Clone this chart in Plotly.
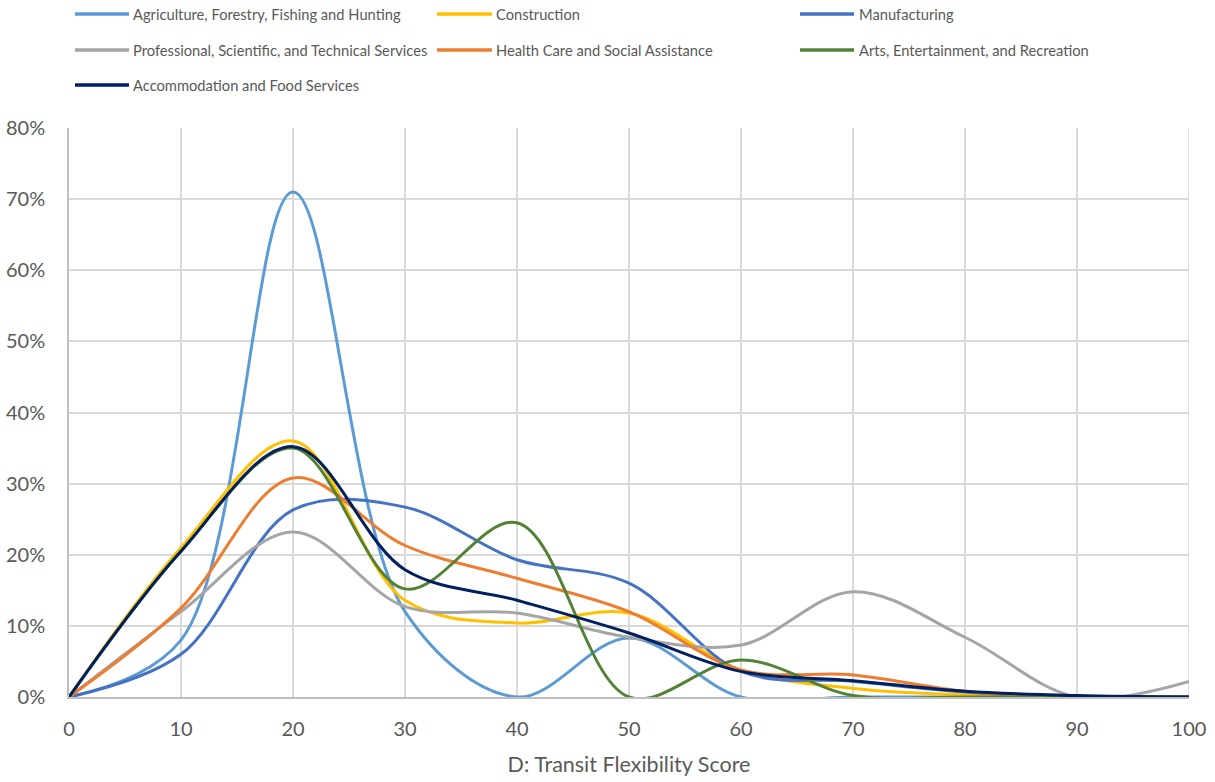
import plotly.graph_objects as go

# Transit flexibility score buckets (x axis)
scores = [0, 10, 20, 30, 40, 50, 60, 70, 80, 90, 100]

# Share of workers in each score bucket, in percent, by industry
agriculture = [0, 8.0, 71.0, 12.0, 0.0, 8.3, 0.0, 0.0, 0.0, 0.0, 0.0]
construction = [0, 21.0, 36.0, 13.6, 10.4, 11.8, 3.8, 1.2, 0.3, 0.0, 0.0]
manufacturing = [0, 6.0, 26.3, 26.7, 19.3, 16.0, 3.6, 2.2, 0.7, 0.0, 0.0]
professional = [0, 12.0, 23.2, 12.7, 11.8, 8.4, 7.3, 14.8, 8.4, 0.0, 2.2]
health_care = [0, 12.5, 30.8, 21.3, 16.7, 12.0, 3.8, 3.1, 0.8, 0.0, 0.0]
arts = [0, 20.5, 35.0, 15.2, 24.5, 0.0, 5.2, 0.2, 0.0, 0.0, 0.0]
accommodation = [0, 20.5, 35.2, 17.9, 13.6, 9.0, 3.6, 2.3, 0.8, 0.2, 0.0]

y_ticks = [0, 10, 20, 30, 40, 50, 60, 70, 80]

series = [
    ("Agriculture, Forestry, Fishing and Hunting", agriculture, "#5B9BD5"),
    ("Construction", construction, "#FFC000"),
    ("Manufacturing", manufacturing, "#4472C4"),
    ("Professional, Scientific, and Technical Services", professional, "#A5A5A5"),
    ("Health Care and Social Assistance", health_care, "#ED7D31"),
    ("Arts, Entertainment, and Recreation", arts, "#548235"),
    ("Accommodation and Food Services", accommodation, "#002060"),
]

FONT = "Lato"
TEXT = "#595959"

W, H = 1215, 782
L, R, T, B = 69, 26, 128, 85
plot_w = W - L - R
plot_h = H - T - B

fig = go.Figure()
for name, vals, color in series:
    fig.add_trace(go.Scatter(
        x=scores,
        y=[v / 100 for v in vals],
        name=name,
        mode="lines",
        line=dict(color=color, width=3, shape="spline", smoothing=1),
        showlegend=False,
        hoverinfo="x+y+name",
    ))

# Legend drawn as three columns of line samples with labels above the plot
col_px = [(75, 129, 131), (437, 492, 494), (800, 854, 857)]
row_py = [14, 50, 85]


def px_to_paper_x(px):
    return (px - L) / plot_w


def py_to_paper_y(py):
    return (H - B - py) / plot_h


shapes = []
annotations = []
for i, (name, _, color) in enumerate(series):
    row, col = divmod(i, 3)
    x0, x1, xt = col_px[col]
    yy = py_to_paper_y(row_py[row])
    shapes.append(dict(
        type="line", xref="paper", yref="paper",
        x0=px_to_paper_x(x0), x1=px_to_paper_x(x1), y0=yy, y1=yy,
        line=dict(color=color, width=3.5),
    ))
    annotations.append(dict(
        text=name, xref="paper", yref="paper",
        x=px_to_paper_x(xt), y=yy, xanchor="left", yanchor="middle",
        showarrow=False, font=dict(family=FONT, size=14.7, color=TEXT),
    ))

fig.update_layout(
    width=W, height=H,
    margin=dict(l=L, r=R, t=T, b=B, pad=0, autoexpand=False),
    paper_bgcolor="white",
    plot_bgcolor="white",
    font=dict(family=FONT, color=TEXT),
    shapes=shapes,
    annotations=annotations,
    xaxis=dict(
        range=[0, 100],
        tickvals=scores,
        ticktext=[str(s) for s in scores],
        tickfont=dict(size=20, color=TEXT, family=FONT),
        ticklabelstandoff=13,
        showgrid=True, gridcolor="#D9D9D9", gridwidth=1.5,
        showline=True, linecolor="#BFBFBF", linewidth=1.5,
        zeroline=False,
        ticks="",
        automargin=False,
        title=dict(text="D: Transit Flexibility Score",
                   font=dict(size=21.5, color=TEXT, family=FONT), standoff=18),
    ),
    yaxis=dict(
        range=[0, 0.8],
        tickvals=[v / 100 for v in y_ticks],
        tickformat=".0%",
        tickfont=dict(size=20, color=TEXT, family=FONT),
        ticklabelstandoff=18,
        showgrid=True, gridcolor="#D9D9D9", gridwidth=1.5,
        showline=True, linecolor="#BFBFBF", linewidth=1.5,
        zeroline=False,
        ticks="",
        automargin=False,
    ),
)

# Right border gridline at x=100
fig.add_shape(type="line", xref="x", yref="paper", x0=100, x1=100, y0=0, y1=1,
              line=dict(color="#D9D9D9", width=1.5), layer="below")

fig.write_html("out.html")
